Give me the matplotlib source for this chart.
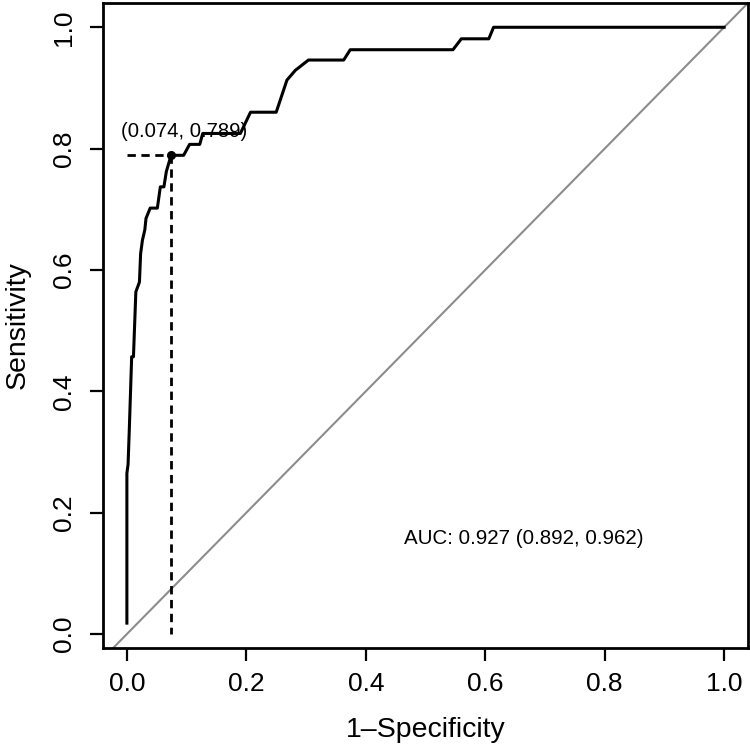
import matplotlib
matplotlib.use("Agg")
import matplotlib.pyplot as plt

# ROC curve points (1-Specificity, Sensitivity)
fpr = [0.0, 0.0, 0.002, 0.004, 0.008, 0.011, 0.015, 0.021, 0.023, 0.026, 0.030,
       0.032, 0.039, 0.051, 0.056, 0.062, 0.066, 0.074, 0.095, 0.105, 0.122,
       0.127, 0.190, 0.207, 0.250, 0.268, 0.282, 0.304, 0.363, 0.374, 0.546,
       0.560, 0.606, 0.614, 1.0]
tpr = [0.018, 0.265, 0.280, 0.336, 0.457, 0.457, 0.564, 0.580, 0.627, 0.649, 0.666,
       0.685, 0.702, 0.702, 0.737, 0.737, 0.762, 0.789, 0.789, 0.807, 0.807,
       0.825, 0.825, 0.860, 0.860, 0.913, 0.929, 0.946, 0.946, 0.963, 0.963,
       0.981, 0.981, 1.0, 1.0]

best_fpr = 0.074
best_tpr = 0.789
best_label = "(0.074, 0.789)"
auc_label = "AUC: 0.927 (0.892, 0.962)"

ticks = [0.0, 0.2, 0.4, 0.6, 0.8, 1.0]
tick_labels = ["0.0", "0.2", "0.4", "0.6", "0.8", "1.0"]

plt.rcParams['font.family'] = ['Liberation Sans', 'DejaVu Sans']

fig = plt.figure(figsize=(7.5, 7.48), dpi=100)
ax = fig.add_axes([103/750, 1 - 648/748, 645/750, 645/748])

ax.set_xlim(-0.04, 1.04)
ax.set_ylim(-0.023, 1.04)

# diagonal
ax.axline((0, 0), (1, 1), color="#8c8c8c", lw=1.5, zorder=1)

# threshold lines
ax.plot([0, best_fpr], [best_tpr, best_tpr], color="black", lw=2, ls=(0, (3, 2)), zorder=2)
ax.plot([best_fpr, best_fpr], [best_tpr, 0], color="black", lw=2, ls=(0, (3, 2)), zorder=2)

# ROC curve
ax.plot(fpr, tpr, color="black", lw=2.2, zorder=3, solid_joinstyle="round")
ax.plot([best_fpr], [best_tpr], "o", color="black", ms=5.5, zorder=4)

ax.text(0.096, 0.829, best_label, ha="center", va="center", fontsize=14.6)
ax.text(0.664, 0.158, auc_label, ha="center", va="center", fontsize=14.8)

ax.set_xticks(ticks)
ax.set_xticklabels(tick_labels)
ax.set_yticks(ticks)
ax.set_yticklabels(tick_labels, rotation=90, va="center")
ax.tick_params(axis="both", length=9.5, width=1.6, labelsize=19, color="black")
ax.tick_params(axis="x", pad=8)
ax.tick_params(axis="y", pad=10)

for s in ax.spines.values():
    s.set_linewidth(2)
    s.set_color("black")

ax.set_xlabel("1\u2013Specificity", fontsize=20.5, labelpad=15)
ax.set_ylabel("Sensitivity", fontsize=20.5, labelpad=15)

fig.savefig("out.png", dpi=100)
